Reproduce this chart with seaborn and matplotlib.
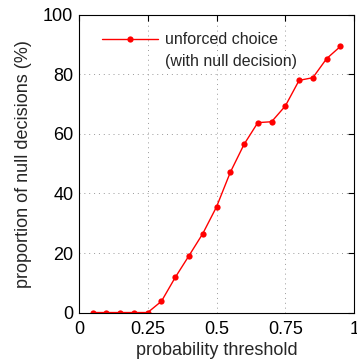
import numpy as np
import pandas as pd
import matplotlib
matplotlib.use('Agg')
import matplotlib.pyplot as plt
from matplotlib.lines import Line2D
import seaborn as sns

# data
threshold = [0.05, 0.10, 0.15, 0.20, 0.25, 0.30, 0.35, 0.40, 0.45, 0.50,
             0.55, 0.60, 0.65, 0.70, 0.75, 0.80, 0.85, 0.90, 0.95]
null_pct = [0, 0, 0, 0, 0, 3.8, 11.8, 19.1, 26.5, 35.5,
            47.1, 56.5, 63.8, 64.1, 69.4, 78.0, 78.9, 85.3, 89.4]
xticks = [0, 0.25, 0.5, 0.75, 1]
xticklabels = ['0', '0.25', '0.5', '0.75', '1']
yticks = [0, 20, 40, 60, 80, 100]
legend_lines = ['unforced choice', '(with null decision)']

df = pd.DataFrame({'threshold': threshold, 'null': null_pct})

sns.set_style('white')
plt.rcParams['font.family'] = ['Liberation Sans', 'DejaVu Sans']

fig = plt.figure(figsize=(3.57, 3.63), dpi=100)
ax = fig.add_axes([0.221, 0.139, 0.771, 0.820])

sns.lineplot(data=df, x='threshold', y='null', ax=ax, color='#ff0000',
             marker='o', markersize=4.5, markeredgewidth=0, linewidth=1,
             label=legend_lines[0])

ax.set_xlim(0, 1)
ax.set_ylim(0, 100)
ax.set_xticks(xticks)
ax.set_xticklabels(xticklabels)
ax.set_yticks(yticks)
ax.grid(True, color='#999999', linestyle=(0, (1, 4)), linewidth=0.7)
ax.tick_params(direction='in', top=True, right=True, length=4, width=0.8,
               labelsize=13, colors='black')
ax.tick_params(axis='x', pad=6)
ax.tick_params(axis='y', pad=4)
for s in ax.spines.values():
    s.set_color('black')
    s.set_linewidth(0.8)
ax.set_xlabel('probability threshold', fontsize=13, labelpad=3)
ax.set_ylabel('proportion of null decisions (%)', fontsize=13, labelpad=8)

# second legend line sits under the first, handle only on the first
handles, labels = ax.get_legend_handles_labels()
handles.append(Line2D([], [], linestyle='none'))
labels.append(legend_lines[1])
leg = ax.legend(handles, labels, loc='upper left', frameon=False, fontsize=11.5,
                handlelength=3.5, handletextpad=0.45, labelspacing=0.42,
                bbox_to_anchor=(0.05, 0.974), borderaxespad=0.2)

fig.savefig('out.png', dpi=100)
